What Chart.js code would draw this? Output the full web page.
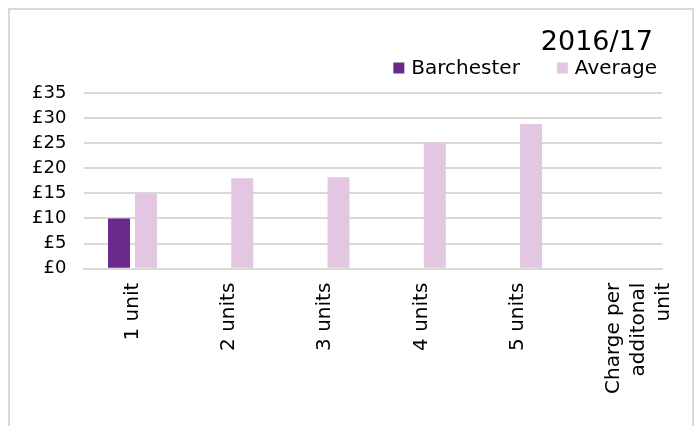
<!DOCTYPE html>
<html>
<head>
<meta charset="utf-8">
<title>Charges 2016/17</title>
<script src="https://cdn.jsdelivr.net/npm/chart.js@4/dist/chart.umd.min.js"></script>
<style>
  html, body { margin: 0; padding: 0; background: #fff; }
  body { width: 699px; height: 426px; overflow: hidden; position: relative; }
  .frame {
    position: absolute; left: 8px; top: 8px;
    width: 682px; height: 440px;
    border: 2px solid #d9d9d9;
  }
  .wrap { position: absolute; left: 0; top: 0; width: 699px; height: 426px; }
</style>
</head>
<body>
<div class="frame"></div>
<div class="wrap"><canvas id="chart"></canvas></div>
<script>
// Charge bands and the two series compared
const CATEGORIES = ['1 unit', '2 units', '3 units', '4 units', '5 units', ['Charge per', 'additonal', 'unit']];
const BARCHESTER = [10, null, null, null, null, null];
const AVERAGE = [14.9, 18.0, 18.2, 25.2, 28.8, null];
const TITLE = '2016/17';

const FONT = "'DejaVu Sans', Verdana, sans-serif";
Chart.defaults.font.family = FONT;
Chart.defaults.color = '#000';

// Title and legend sit in the top-right corner above the plot
const header = {
    id: 'header',
    afterDraw(chart) {
        const ctx = chart.ctx;
        const right = chart.chartArea.right;
        ctx.save();
        ctx.fillStyle = '#000';
        ctx.textAlign = 'right';
        ctx.textBaseline = 'alphabetic';
        ctx.font = '27px ' + FONT;
        ctx.fillText(TITLE, right - 9, 50);

        ctx.font = '20px ' + FONT;
        ctx.textBaseline = 'middle';
        ctx.textAlign = 'left';
        const box = 11, gap = 7, spacing = 37, midY = 69;
        const items = chart.data.datasets.map(ds => ({
            text: ds.label, color: ds.backgroundColor, w: ctx.measureText(ds.label).width
        }));
        let total = items.reduce((s, it) => s + box + gap + it.w, 0) + spacing * (items.length - 1);
        let x = right - 5 - total;
        items.forEach(it => {
            ctx.fillStyle = it.color;
            ctx.fillRect(x, midY - box / 2 - 1, box, box);
            ctx.fillStyle = '#000';
            ctx.fillText(it.text, x + box + gap, midY);
            x += box + gap + it.w + spacing;
        });
        ctx.restore();
    }
};

new Chart(document.getElementById('chart'), {
    type: 'bar',
    data: {
        labels: CATEGORIES,
        datasets: [
            { label: 'Barchester', data: BARCHESTER, backgroundColor: '#68288c' },
            { label: 'Average', data: AVERAGE, backgroundColor: '#e3c6e2' }
        ]
    },
    options: {
        responsive: true,
        maintainAspectRatio: false,
        animation: false,
        datasets: {
            bar: { categoryPercentage: 0.56, barPercentage: 0.815 }
        },
        layout: { padding: { left: 14, right: 37, top: 93, bottom: 18 } },
        scales: {
            x: {
                grid: { display: false, drawTicks: false },
                border: { display: true, color: '#d9d9d9', width: 2 },
                ticks: {
                    minRotation: 90, maxRotation: 90,
                    padding: 14,
                    font: { size: 20, lineHeight: 1.25 }
                },
                // the wrapped last label may run into the right margin
                afterFit: scale => { scale.paddingRight = 0; }
            },
            y: {
                min: 0, max: 35,
                grid: { color: '#d9d9d9', lineWidth: 2, drawTicks: false },
                border: { display: false },
                ticks: {
                    stepSize: 5,
                    padding: 18,
                    font: { size: 18 },
                    callback: v => '£' + v
                }
            }
        },
        plugins: {
            legend: { display: false },
            tooltip: { enabled: false }
        }
    },
    plugins: [header]
});
</script>
</body>
</html>
